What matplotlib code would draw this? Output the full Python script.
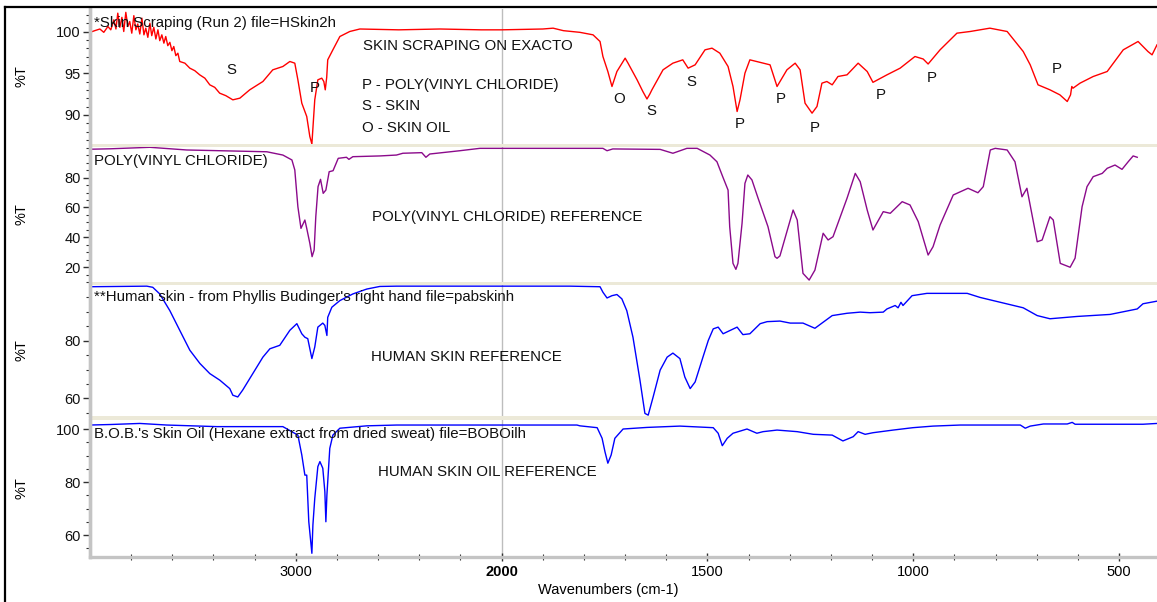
import numpy as np
import matplotlib
matplotlib.use("Agg")
import matplotlib.pyplot as plt
from matplotlib.lines import Line2D
from matplotlib.patches import Rectangle
from matplotlib.ticker import FixedLocator, NullLocator, MultipleLocator

plt.rcParams['font.family'] = ['Liberation Sans', 'DejaVu Sans']

# ---------------- spectra (wavenumber cm-1, %T) ----------------
scrape_wn = [4000, 3977, 3952, 3933, 3913, 3899, 3884, 3874, 3865, 3855, 3845, 3836, 3826,
             3816, 3807, 3797, 3787, 3777, 3768, 3758, 3748, 3738, 3729, 3719, 3709, 3700,
             3690, 3680, 3670, 3661, 3651, 3641, 3632, 3622, 3612, 3602, 3593, 3583, 3573,
             3564, 3539, 3515, 3491, 3467, 3442, 3418, 3394, 3370, 3340, 3306, 3272, 3224,
             3160, 3112, 3063, 3029, 3005, 2990, 2971, 2947, 2932, 2922, 2908, 2893, 2874,
             2864, 2857, 2850, 2845, 2820, 2786, 2738, 2689, 2500, 2300, 2100, 2000, 1900,
             1875, 1850, 1810, 1778, 1761, 1754, 1742, 1732, 1720, 1700, 1693, 1671, 1657,
             1647, 1640, 1635, 1608, 1584, 1560, 1547, 1530, 1506, 1489, 1470, 1450, 1438,
             1428, 1421, 1409, 1397, 1372, 1348, 1331, 1307, 1287, 1275, 1263, 1246, 1234,
             1222, 1210, 1197, 1183, 1161, 1134, 1112, 1098, 1064, 1032, 996, 976, 964, 935,
             894, 862, 814, 772, 733, 716, 697, 668, 644, 626, 618, 615, 612, 595, 563, 529,
             490, 454, 430, 420, 408]
scrape_t = [99.9, 100.1, 100.3, 99.9, 100.6, 100.2, 101.4, 100.3, 102.2, 100.5, 101.7, 100.0,
            102.3, 100.6, 101.2, 99.8, 101.9, 100.2, 100.9, 99.7, 101.6, 99.6, 100.4, 99.3,
            101.0, 99.5, 100.5, 99.1, 100.2, 98.9, 99.6, 98.6, 99.4, 98.3, 98.7, 97.7, 98.2,
            97.1, 97.4, 96.4, 96.2, 95.6, 95.3, 94.8, 94.4, 93.6, 93.3, 92.6, 92.3, 91.8,
            92.0, 93.0, 94.0, 95.4, 95.8, 96.4, 96.2, 94.2, 91.4, 89.8, 87.4, 86.5, 91.8,
            94.2, 94.4, 94.0, 93.0, 94.5, 96.6, 97.8, 99.4, 100.0, 100.3, 100.2, 100.3, 100.2,
            100.2, 100.3, 100.4, 100.1, 99.9, 99.6, 98.8, 97.0, 95.2, 93.4, 95.2, 96.8, 96.2,
            94.2, 92.8, 91.9, 92.5, 93.0, 95.4, 96.2, 96.6, 95.6, 96.0, 97.8, 98.0, 97.4,
            95.8, 93.4, 90.4, 91.8, 95.0, 96.6, 96.3, 96.0, 93.4, 95.4, 96.2, 95.4, 91.4,
            90.2, 91.0, 93.8, 94.0, 93.6, 94.6, 94.8, 96.2, 95.2, 93.9, 94.8, 95.6, 97.0,
            96.7, 96.1, 97.8, 99.8, 100.0, 100.4, 100.0, 97.6, 96.0, 93.6, 93.0, 92.4, 91.6,
            92.4, 93.4, 93.2, 93.8, 94.6, 95.2, 97.8, 98.8, 97.6, 97.2, 98.4]

pvc_wn = [4000, 3900, 3709, 3530, 3141, 3063, 3019, 3005, 2990, 2975, 2956, 2947, 2932, 2921,
          2911, 2903, 2892, 2880, 2867, 2854, 2838, 2819, 2794, 2754, 2742, 2723, 2592, 2511,
          2480, 2388, 2368, 2349, 2203, 2106, 1907, 1754, 1744, 1730, 1615, 1584, 1550, 1525,
          1494, 1477, 1463, 1450, 1446, 1438, 1431, 1426, 1416, 1409, 1402, 1392, 1377, 1353,
          1336, 1331, 1324, 1292, 1282, 1268, 1253, 1239, 1219, 1207, 1195, 1161, 1141, 1129,
          1112, 1098, 1073, 1056, 1027, 1008, 988, 964, 952, 935, 903, 867, 843, 830, 813, 801,
          772, 753, 736, 724, 699, 687, 668, 660, 643, 619, 607, 590, 578, 563, 541, 529, 510,
          493, 478, 466, 456]
pvc_t = [99.1, 99.4, 100.4, 98.6, 97.4, 95.2, 91.9, 85.2, 60.5, 46.0, 51.6, 46.0, 36.0, 27.0,
         31.5, 53.8, 74.0, 78.9, 69.5, 71.7, 84.0, 84.7, 93.0, 93.7, 92.3, 94.1, 94.6, 95.2,
         96.4, 96.8, 93.7, 95.9, 98.1, 99.7, 99.7, 99.7, 98.1, 99.3, 99.0, 96.4, 99.7, 99.7,
         95.2, 90.7, 80.7, 71.7, 47.1, 22.5, 18.5, 22.5, 49.4, 76.2, 81.8, 78.5, 66.2, 47.1,
         27.0, 25.9, 27.5, 58.3, 51.6, 15.8, 11.3, 18.0, 42.7, 38.2, 40.4, 66.2, 82.9, 77.3,
         58.3, 44.9, 57.2, 56.1, 63.9, 61.7, 50.5, 28.1, 33.7, 48.2, 68.4, 72.9, 69.9, 74.0,
         98.6, 99.7, 98.6, 90.7, 67.2, 72.9, 37.0, 38.2, 53.8, 51.6, 22.5, 19.9, 26.0, 60.5,
         74.0, 80.7, 82.9, 86.3, 88.5, 85.6, 90.7, 94.6, 93.7]

skin_wn = [4000, 3724, 3695, 3661, 3612, 3564, 3515, 3466, 3418, 3369, 3321, 3306, 3282, 3258,
           3209, 3160, 3126, 3078, 3029, 2995, 2971, 2956, 2942, 2922, 2908, 2893, 2869, 2859,
           2849, 2845, 2825, 2786, 2723, 2655, 2592, 2510, 1834, 1761, 1754, 1744, 1732, 1720,
           1708, 1696, 1681, 1664, 1652, 1644, 1632, 1615, 1598, 1584, 1567, 1555, 1542, 1530,
           1511, 1498, 1486, 1474, 1462, 1428, 1414, 1397, 1372, 1355, 1324, 1299, 1268, 1239,
           1219, 1197, 1161, 1129, 1105, 1073, 1064, 1044, 1037, 1030, 1025, 1003, 967, 869,
           838, 806, 733, 699, 668, 602, 522, 456, 442, 408]
skin_t = [98.7, 98.9, 98.5, 96.2, 90.4, 83.6, 76.7, 72.1, 68.6, 66.3, 63.4, 61.1, 60.5, 62.9,
          68.6, 74.3, 77.2, 78.4, 83.6, 85.9, 82.4, 81.2, 80.7, 73.8, 77.8, 84.7, 86.1, 85.3,
          81.8, 88.1, 91.6, 93.9, 96.2, 97.9, 98.8, 98.9, 98.9, 98.7, 96.8, 94.8, 95.6, 96.0,
          94.5, 90.4, 81.2, 66.3, 54.8, 54.2, 60.5, 69.8, 74.3, 75.7, 73.8, 67.4, 63.4, 65.7,
          74.3, 80.1, 84.1, 84.7, 82.4, 84.7, 82.1, 82.4, 85.9, 86.6, 86.8, 86.1, 86.1, 84.3,
          86.4, 88.7, 89.5, 89.9, 89.7, 89.9, 91.0, 92.2, 91.4, 93.3, 92.2, 95.6, 96.4, 96.4,
          95.0, 93.9, 91.4, 88.7, 87.6, 88.4, 89.1, 91.0, 92.8, 93.7]

oil_wn = [4000, 3900, 3758, 3627, 3384, 3063, 2990, 2971, 2956, 2947, 2937, 2922, 2917, 2908,
          2893, 2883, 2869, 2859, 2854, 2849, 2835, 2820, 2786, 2655, 2510, 1817, 1810, 1768,
          1756, 1749, 1742, 1734, 1725, 1705, 1647, 1567, 1486, 1474, 1464, 1452, 1438, 1404,
          1380, 1365, 1331, 1282, 1243, 1197, 1171, 1146, 1134, 1117, 1098, 1049, 1001, 952,
          886, 740, 728, 716, 684, 626, 614, 607, 563, 442, 408]
oil_t = [101.5, 101.7, 102.1, 101.5, 100.9, 100.9, 97.7, 90.2, 82.6, 82.6, 65.0, 53.1, 63.8,
         73.8, 85.8, 87.7, 85.2, 76.4, 65.0, 75.1, 92.7, 97.7, 100.3, 101.2, 101.5, 101.5,
         101.2, 100.5, 96.5, 91.4, 87.1, 90.2, 96.5, 100.0, 100.6, 101.1, 100.5, 98.4, 93.7,
         96.5, 98.4, 100.0, 98.4, 99.0, 99.6, 99.0, 98.0, 97.7, 95.5, 97.1, 99.0, 98.0, 98.6,
         99.6, 100.5, 101.1, 101.5, 101.5, 100.3, 101.1, 101.9, 101.9, 102.5, 101.8, 101.8,
         101.8, 102.1]

# peak assignment letters on the scraping spectrum: (label, wavenumber, %T)
peak_labels = ['S', 'P', 'O', 'S', 'S', 'P', 'P', 'P', 'P', 'P', 'P']
peak_wn = [3315, 2908, 1715, 1637, 1538, 1421, 1322, 1240, 1080, 956, 652]
peak_t = [95.4, 93.2, 91.9, 90.5, 94.0, 88.9, 91.9, 88.4, 92.4, 94.4, 95.5]

x_major = [3000, 2000, 1500, 1000, 500]
x_minor = [3800, 3600, 3400, 3200, 2800, 2600, 2400, 2200,
           1900, 1800, 1700, 1600, 1400, 1300, 1200, 1100, 900, 800, 700, 600]


# 2x expansion of the wavenumber axis below 2000 cm-1
def fwd(w):
    w = np.asarray(w, dtype=float)
    return np.where(w <= 2000, 2.0 * w, w + 2000.0)


def inv(u):
    u = np.asarray(u, dtype=float)
    return np.where(u <= 4000, u / 2.0, u - 2000.0)


W, H = 1157, 602
fig = plt.figure(figsize=(W / 100, H / 100), dpi=100)
fig.patch.set_facecolor('white')

L, R = 90, 1157


def rect(top, bottom):
    return [L / W, 1 - bottom / H, (R - L) / W, (bottom - top) / H]


BAND = '#ECE9D8'
SPINE = '#C4C4C4'
TICKC = '#303030'

panels = [
    dict(top=9, bottom=144, ylim=(86.5, 102.7), major=[90, 95, 100], minor=1,
         wn=scrape_wn, t=scrape_t, color='#FF0000'),
    dict(top=147, bottom=282, ylim=(10.0, 100.6), major=[20, 40, 60, 80], minor=5,
         wn=pvc_wn, t=pvc_t, color='#8B0A8B'),
    dict(top=285, bottom=416, ylim=(53.9, 99.3), major=[60, 80], minor=5,
         wn=skin_wn, t=skin_t, color='#0000FF'),
    dict(top=420, bottom=557, ylim=(51.7, 103.4), major=[60, 80, 100], minor=5,
         wn=oil_wn, t=oil_t, color='#0000FF'),
]

axes = []
for p in panels:
    ax = fig.add_axes(rect(p['top'], p['bottom']))
    ax.set_xscale('function', functions=(fwd, inv))
    ax.set_xlim(4000, 408)
    ax.set_ylim(*p['ylim'])
    ax.axvline(2000, color='#BDBDBD', lw=1.0, zorder=0)
    ax.plot(p['wn'], p['t'], color=p['color'], lw=1.0, zorder=2)
    for s in ('top', 'right', 'bottom'):
        ax.spines[s].set_visible(False)
    ax.spines['left'].set_color(SPINE)
    ax.spines['left'].set_linewidth(2.4)
    ax.yaxis.set_major_locator(FixedLocator(p['major']))
    ax.yaxis.set_minor_locator(MultipleLocator(p['minor']))
    ax.tick_params(axis='y', which='major', length=5, width=1.0, color=TICKC,
                   labelsize=10.5, pad=1.5, labelcolor='#111111')
    ax.tick_params(axis='y', which='minor', length=3, width=0.8, color=TICKC)
    ax.xaxis.set_major_locator(NullLocator())
    ax.xaxis.set_minor_locator(NullLocator())
    ax.set_ylabel('%T', fontsize=10.5)
    ax.yaxis.set_label_coords(-0.058, 0.5)
    axes.append(ax)

ax1, ax2, ax3, ax4 = axes

# wavenumber axis on the bottom panel
ax4.spines['bottom'].set_visible(True)
ax4.spines['bottom'].set_color(SPINE)
ax4.spines['bottom'].set_linewidth(2.4)
ax4.xaxis.set_major_locator(FixedLocator(x_major))
ax4.xaxis.set_minor_locator(FixedLocator(x_minor))
ax4.set_xticklabels([str(v) for v in x_major])
ax4.tick_params(axis='x', which='major', direction='inout', length=6, width=1.0,
                color=TICKC, labelsize=10.5, pad=3)
ax4.tick_params(axis='x', which='minor', direction='inout', length=4, width=0.8, color=TICKC)
for lbl in ax4.get_xticklabels():
    if lbl.get_text() == '2000':
        lbl.set_fontweight('bold')
ax4.set_xlabel('Wavenumbers (cm-1)', fontsize=10.5)
ax4.xaxis.set_label_coords((608 - L) / (R - L), -0.19)

# separator bands between panels
for top, bottom in [(144, 147), (282, 285), (416, 420)]:
    fig.add_artist(Rectangle((L / W, 1 - bottom / H), (R - L) / W, (bottom - top) / H,
                             transform=fig.transFigure, facecolor=BAND, edgecolor='none',
                             zorder=0))
fig.add_artist(Line2D([L / W, L / W], [1 - 557 / H, 1 - 9 / H], transform=fig.transFigure,
                      color=SPINE, lw=2.4, zorder=1))

# outer frame
fig.add_artist(Line2D([5 / W, 1], [1 - 7 / H, 1 - 7 / H], transform=fig.transFigure,
                      color='black', lw=1.6))
fig.add_artist(Line2D([5 / W, 5 / W], [0, 1 - 7 / H], transform=fig.transFigure,
                      color='black', lw=1.6))

FS = 10.8


def ax_text(ax, xpx, ypx, s, top, bottom):
    ax.text((xpx - L) / (R - L), (bottom - ypx) / (bottom - top), s, transform=ax.transAxes,
            ha='left', va='center', fontsize=FS, color='#111111')


ax_text(ax1, 94, 23, '*Skin Scraping (Run 2) file=HSkin2h', 9, 144)
ax_text(ax1, 363, 46, 'SKIN SCRAPING ON EXACTO', 9, 144)
ax_text(ax1, 362, 85.5, 'P - POLY(VINYL CHLORIDE)', 9, 144)
ax_text(ax1, 362, 105.5, 'S - SKIN', 9, 144)
ax_text(ax1, 362, 128.5, 'O - SKIN OIL', 9, 144)
for lab, w, t in zip(peak_labels, peak_wn, peak_t):
    ax1.text(w, t, lab, ha='center', va='center', fontsize=FS, color='#111111')

ax_text(ax2, 94, 160.7, 'POLY(VINYL CHLORIDE)', 147, 282)
ax_text(ax2, 372, 216.7, 'POLY(VINYL CHLORIDE) REFERENCE', 147, 282)

ax_text(ax3, 94, 296.7, "**Human skin - from Phyllis Budinger's right hand file=pabskinh", 285, 416)
ax_text(ax3, 371, 356.7, 'HUMAN SKIN REFERENCE', 285, 416)

ax_text(ax4, 94, 434, "B.O.B.'s Skin Oil (Hexane extract from dried sweat) file=BOBOilh", 420, 557)
ax_text(ax4, 378, 472.3, 'HUMAN SKIN OIL REFERENCE', 420, 557)

fig.savefig('out.png', dpi=100)
